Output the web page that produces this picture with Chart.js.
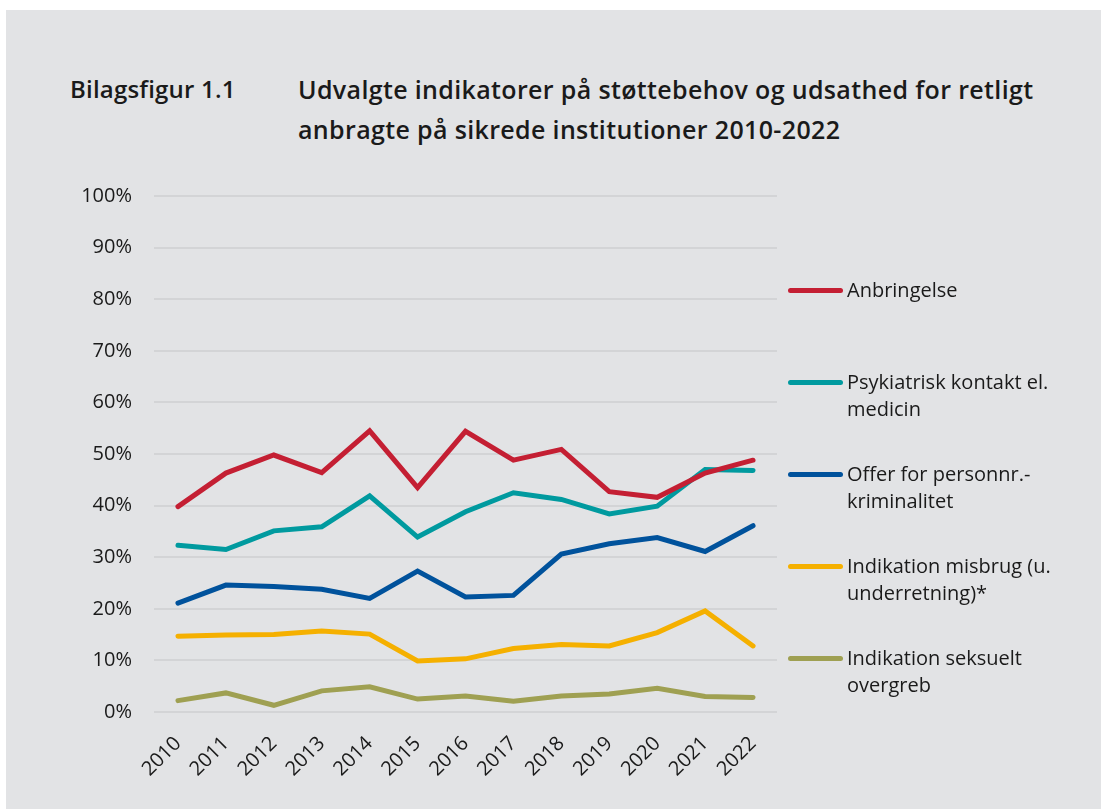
<!DOCTYPE html>
<html>
<head>
<meta charset="utf-8">
<script src="https://cdn.jsdelivr.net/npm/chart.js@4.4.0/dist/chart.umd.min.js"></script>
<style>
  html, body { margin: 0; padding: 0; background: #fff; }
  body { width: 1101px; height: 809px; position: relative; overflow: hidden; font-family: "Open Sans", sans-serif; color: #1a1a1a; }
  #panel { position: absolute; left: 6px; top: 10px; right: 0; bottom: 0; background: #e2e3e5; }
  .t-num { position: absolute; left: 70px; top: 69px; font-size: 24px; font-weight: 600; line-height: 40px; letter-spacing: 0.2px; }
  .t-txt { position: absolute; left: 298px; top: 69px; font-size: 25px; font-weight: 600; line-height: 40px; letter-spacing: 0.35px; white-space: nowrap; }
  #wrap { position: absolute; left: 0; top: 162px; width: 790px; height: 647px; }
  #legend { position: absolute; left: 788px; top: 0; }
  .item { position: absolute; left: 0; width: 320px; font-size: 20px; line-height: 27px; }
  .item .swatch { position: absolute; left: 0; top: 12px; width: 55px; height: 5px; border-radius: 3px; }
  .item .lbl { position: absolute; left: 59px; top: 0; white-space: nowrap; }
</style>
</head>
<body>
<div id="panel"></div>
<div class="t-num">Bilagsfigur 1.1</div>
<div class="t-txt">Udvalgte indikatorer på støttebehov og udsathed for retligt<br>anbragte på sikrede institutioner 2010-2022</div>
<div id="wrap"><canvas id="grafico"></canvas></div>
<div id="legend"></div>

<script>
// data (procent)
var years = ["2010", "2011", "2012", "2013", "2014", "2015", "2016", "2017", "2018", "2019", "2020", "2021", "2022"];

var anbringelse = [39.8, 46.3, 49.8, 46.4, 54.5, 43.5, 54.4, 48.8, 50.9, 42.7, 41.6, 46.3, 48.8];
var psykiatrisk = [32.3, 31.5, 35.1, 35.9, 41.9, 33.9, 38.8, 42.5, 41.2, 38.4, 39.9, 47.0, 46.8];
var offer = [21.1, 24.6, 24.3, 23.8, 22.0, 27.3, 22.3, 22.6, 30.6, 32.6, 33.8, 31.1, 36.1];
var misbrug = [14.7, 14.9, 15.0, 15.7, 15.1, 9.9, 10.3, 12.3, 13.1, 12.8, 15.4, 19.6, 12.8];
var seksuelt = [2.2, 3.7, 1.3, 4.1, 4.9, 2.5, 3.1, 2.1, 3.1, 3.5, 4.6, 3.0, 2.8];

var serieNavne = [
  ["Anbringelse"],
  ["Psykiatrisk kontakt el.", "medicin"],
  ["Offer for personnr.-", "kriminalitet"],
  ["Indikation misbrug (u.", "underretning)*"],
  ["Indikation seksuelt", "overgreb"]
];
var farver = ["#c41f33", "#009a9f", "#00529c", "#f5b000", "#9fa052"];
var serier = [anbringelse, psykiatrisk, offer, misbrug, seksuelt];

var datasets = serier.map(function (d, i) {
  return {
    label: serieNavne[i].join(" "),
    data: d,
    borderColor: farver[i],
    backgroundColor: farver[i],
    borderWidth: 5,
    borderCapStyle: 'round',
    borderJoinStyle: 'miter',
    pointRadius: 0,
    tension: 0
  };
});

var ctx = document.getElementById("grafico");

var myLineChart = new Chart(ctx, {
  type: 'line',
  data: { labels: years, datasets: datasets },
  options: {
    responsive: true,
    maintainAspectRatio: false,
    animation: false,
    layout: { padding: { top: 0, right: 13, left: 0, bottom: 0 } },
    plugins: { legend: { display: false }, tooltip: { enabled: false } },
    scales: {
      x: {
        offset: true,
        grid: { display: false },
        border: { display: false },
        ticks: {
          color: '#1a1a1a',
          font: { family: 'Open Sans', size: 20 },
          minRotation: 45,
          maxRotation: 45,
          padding: 12
        },
        afterFit: function (s) { s.height = 97; }
      },
      y: {
        min: 0,
        max: 100,
        ticks: {
          stepSize: 10,
          color: '#1a1a1a',
          font: { family: 'Open Sans', size: 20 },
          padding: 22,
          callback: function (v) { return v + '%'; }
        },
        grid: { color: '#d3d4d6', lineWidth: 2, drawTicks: false },
        border: { display: false },
        afterFit: function (s) { s.width = 154; }
      }
    }
  }
});

// legend
var legend = document.getElementById("legend");
serieNavne.forEach(function (navn, i) {
  var div = document.createElement("div");
  div.className = "item";
  div.style.top = (276 + i * 92) + "px";
  div.innerHTML = '<div class="swatch" style="background:' + farver[i] + '"></div>' +
    '<div class="lbl">' + navn.join("<br>") + '</div>';
  legend.appendChild(div);
});
</script>
</body>
</html>
